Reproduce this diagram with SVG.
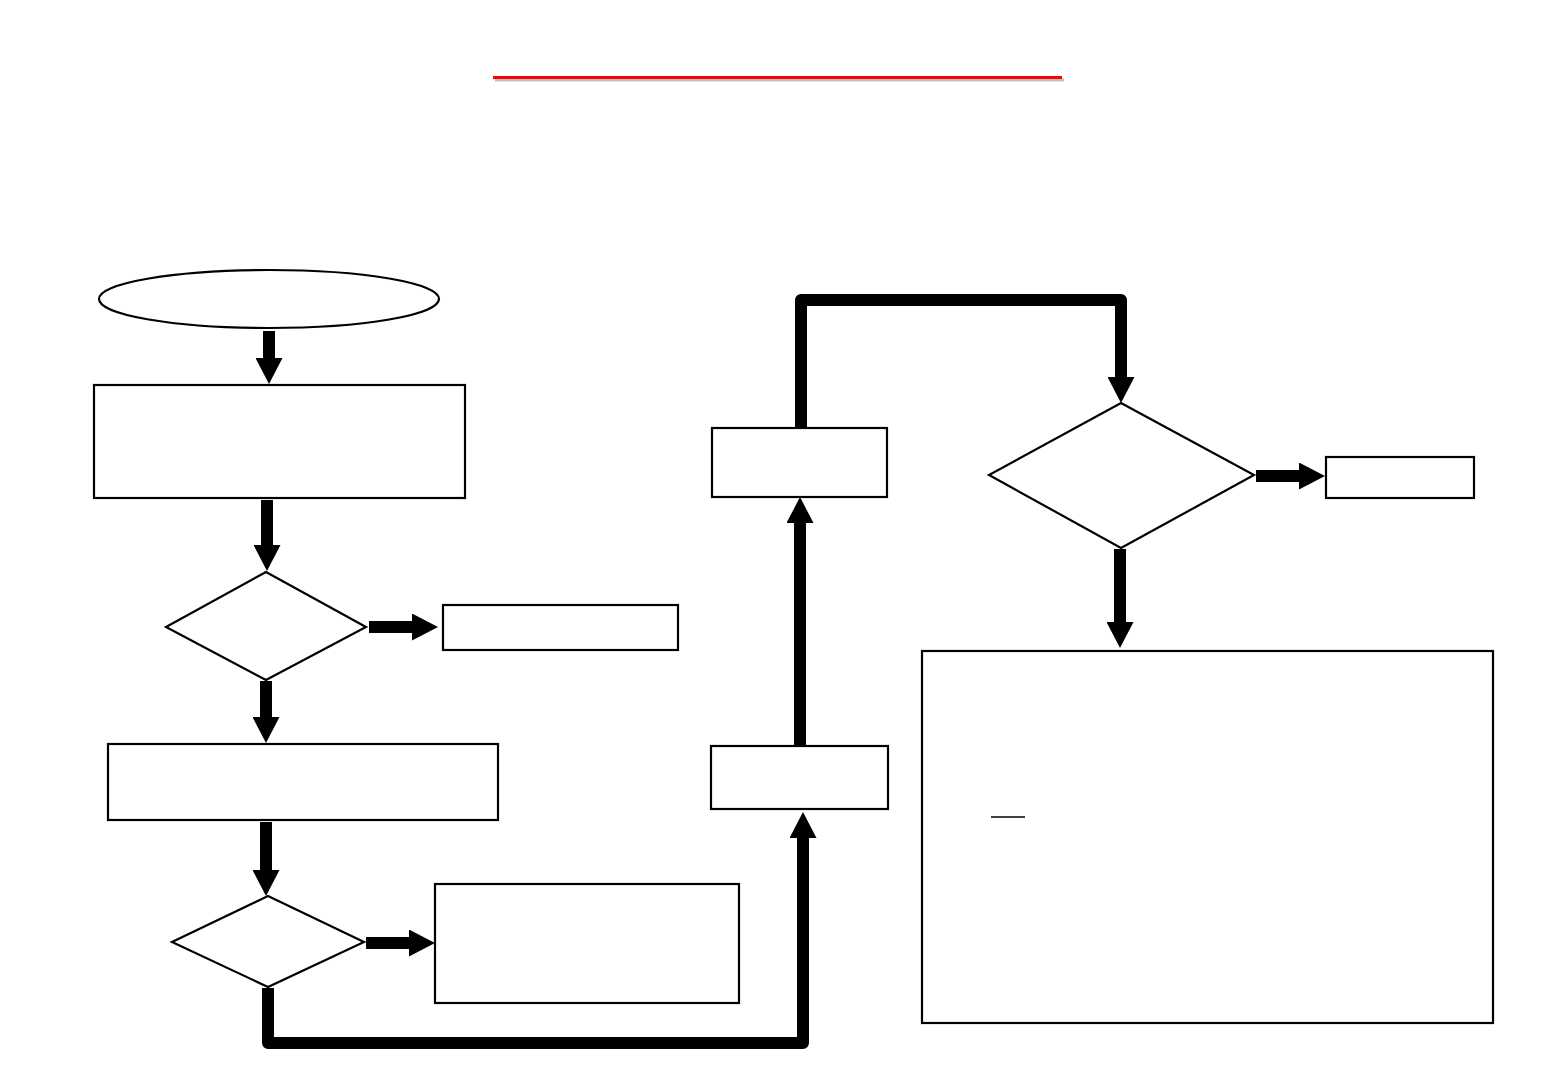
<svg xmlns="http://www.w3.org/2000/svg" width="1560" height="1080" viewBox="0 0 1560 1080">
  <style>
    .box { fill: #fff; stroke: #000; stroke-width: 2.2; }
    .conn { fill: none; stroke: #000; stroke-width: 12; stroke-linejoin: round; }
    .loop { fill: none; stroke: #000; stroke-width: 12; stroke-linejoin: round; stroke-linecap: butt; }
  </style>
  <defs>
    <marker id="head" markerUnits="userSpaceOnUse" markerWidth="27" markerHeight="27" refX="2" refY="13.5" orient="auto">
      <path d="M0,0 L26,13.5 L0,27 z" fill="#000"/>
    </marker>
  </defs>
  <rect width="1560" height="1080" fill="#fff"/>

  <g id="title-rule">
    <line x1="495" y1="80" x2="1064" y2="80" stroke="#c0c0c0" stroke-width="3"/>
    <line x1="493" y1="77.5" x2="1062" y2="77.5" stroke="#ff0000" stroke-width="3"/>
  </g>

  <g id="start"><ellipse class="box" cx="269" cy="299" rx="170" ry="29"/></g>
  <g id="step1"><rect class="box" x="94" y="385" width="371" height="113"/></g>
  <g id="decision1"><polygon class="box" points="266,572 366,627 266,680 166,627"/></g>
  <g id="out1"><rect class="box" x="443" y="605" width="235" height="45"/></g>
  <g id="step2"><rect class="box" x="108" y="744" width="390" height="76"/></g>
  <g id="decision2"><polygon class="box" points="268,896 364,942 268,987 172,942"/></g>
  <g id="out2"><rect class="box" x="435" y="884" width="304" height="119"/></g>
  <g id="step3"><rect class="box" x="711" y="746" width="177" height="63"/></g>
  <g id="step4"><rect class="box" x="712" y="428" width="175" height="69"/></g>
  <g id="decision3"><polygon class="box" points="1121,403 1254,475 1121,548 989,475"/></g>
  <g id="out3"><rect class="box" x="1326" y="457" width="148" height="41"/></g>
  <g id="result">
    <rect class="box" x="922" y="651" width="571" height="372"/>
    <line x1="991" y1="817" x2="1025" y2="817" stroke="#000" stroke-width="1.5"/>
  </g>

  <g id="connectors">
    <line class="conn" x1="269" y1="331" x2="269" y2="360" marker-end="url(#head)"/>
    <line class="conn" x1="267" y1="500" x2="267" y2="547" marker-end="url(#head)"/>
    <line class="conn" x1="369" y1="627" x2="414" y2="627" marker-end="url(#head)"/>
    <line class="conn" x1="266" y1="681" x2="266" y2="719" marker-end="url(#head)"/>
    <line class="conn" x1="266" y1="822" x2="266" y2="872" marker-end="url(#head)"/>
    <line class="conn" x1="366" y1="943" x2="411" y2="943" marker-end="url(#head)"/>
    <path class="loop" d="M268,988 V1043 H803 V836" marker-end="url(#head)"/>
    <line class="conn" x1="800" y1="745" x2="800" y2="521" marker-end="url(#head)"/>
    <path class="loop" d="M801,427 V300 H1121 V379" marker-end="url(#head)"/>
    <line class="conn" x1="1256" y1="476" x2="1301" y2="476" marker-end="url(#head)"/>
    <line class="conn" x1="1120" y1="549" x2="1120" y2="624" marker-end="url(#head)"/>
  </g>
</svg>
